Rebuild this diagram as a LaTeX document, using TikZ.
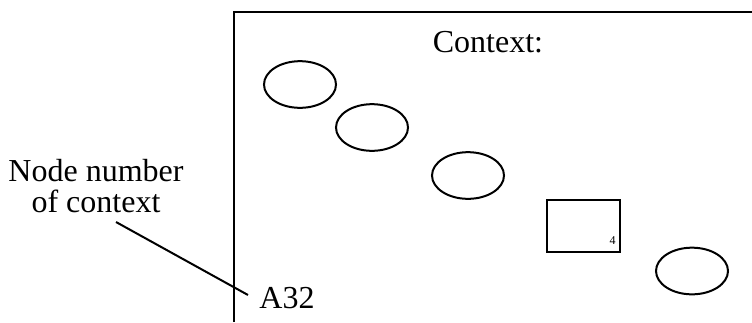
\documentclass[tikz,border=0pt]{standalone}
\usepackage{fontspec}
\setmainfont{Liberation Serif}
\usetikzlibrary{shapes.geometric}
\tikzset{
  lbl/.style={font=\fontsize{24}{26}\selectfont,inner sep=0pt,anchor=base},
  blob/.style={draw,ellipse,line width=1.5pt,minimum width=54pt,minimum height=35pt,inner sep=0pt},
  sbox/.style={draw,rectangle,line width=1.5pt,minimum width=54.75pt,minimum height=39pt,inner sep=0pt}
}
\begin{document}
\begin{tikzpicture}[x=0.75pt,y=-0.75pt]
\useasboundingbox (0,0) rectangle (752,322);
\draw[line width=1.5pt] (234,322) -- (234,12) -- (752,12);
\node[lbl] (ctx) at (488,52) {Context:};
\foreach \n/\px/\py in {1/300/84.5,2/372/127.5,3/468/175.5,4/692/271}{%
  \node[blob] (e\n) at (\px,\py) {};}
\node[sbox] (box) at (583.5,226) {};
\node[font=\fontsize{9}{10}\selectfont,inner sep=0pt,anchor=south east] (num)
  at ([shift={(-3.8pt,6.5pt)}]box.south east) {4};
\node[lbl] (nn1) at (96,181) {Node number};
\node[lbl] (nn2) at (96,212) {of context};
\coordinate (tail) at (116,222);
\coordinate (tip) at (248,295);
\draw[line width=1.5pt] (tail) -- (tip);
\node[lbl] (id) at (287,308) {A32};
\end{tikzpicture}
\end{document}
